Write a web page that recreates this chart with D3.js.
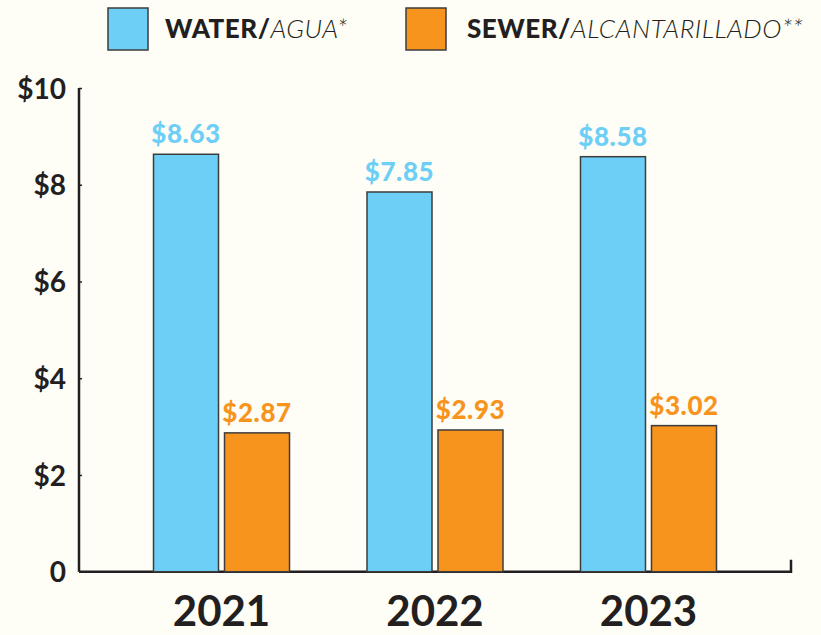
<!DOCTYPE html>
<html>
<head>
<meta charset="utf-8">
<script src="https://cdn.jsdelivr.net/npm/d3@7"></script>
<style>
  body { margin: 0; background: #fefdf6; }
  text { font-family: Lato, "DejaVu Sans", sans-serif; }
</style>
</head>
<body>
<div id="main"></div>
<script>
const Width = 821, Height = 635;

// data
const years = ["2021", "2022", "2023"];
const series = ["water", "sewer"];
const water = [8.63, 7.85, 8.58];
const sewer = [2.87, 2.93, 3.02];
const yTicks = [0, 2, 4, 6, 8, 10];
const legendBold = ["WATER/", "SEWER/"];
const legendItalic = ["AGUA*", "ALCANTARILLADO**"];

const colors = {water: "#6dcff6", sewer: "#f7941d"};
const margin = {left: 79, top: 88, right: 30, bottom: 63};

const svg = d3.select("#main")
    .append("svg")
    .attr("width", Width)
    .attr("height", Height)
    .style("background", "#fefdf6")
;

let X0 = d3.scaleBand().domain(years).range([margin.left, 791])
    .paddingInner(0.363).paddingOuter(0.349);
let X1 = d3.scaleBand().domain(series).range([0, X0.bandwidth()])
    .paddingInner(0.0845).paddingOuter(0);
let Y = d3.scaleLinear().domain([0, 10]).range([Height - margin.bottom - 0.3, margin.top]);

// axes
const yAxis = svg.append('g')
    .attr('transform', `translate(${margin.left},0)`)
    .call(d3.axisLeft(Y).tickValues(yTicks).tickSize(-3).tickPadding(13)
        .tickFormat(d => d === 0 ? "0" : "$" + d));
yAxis.select(".domain").attr("stroke", "#231f20").attr("stroke-width", 2.5)
    .attr("d", `M0,${Y(10)}V${Y(0)}`);
yAxis.selectAll(".tick line").attr("stroke", "#231f20").attr("stroke-width", 1.5);
yAxis.selectAll(".tick text").attr("fill", "#231f20")
    .style("font-size", "28px").style("font-weight", "700")
    .attr("dy", "0.36em");

const xAxis = svg.append('g')
    .attr('transform', `translate(0, ${Y(0)})`);
xAxis.append("path")
    .attr("d", `M${margin.left},0H791V-12`)
    .attr("fill", "none").attr("stroke", "#231f20").attr("stroke-width", 2.5);
// year labels sit right at the bottom edge, as in the original
xAxis.selectAll("text.year").data(years).enter().append("text")
    .attr("class", "year")
    .attr("x", d => X0(d) + X0.bandwidth() / 2)
    .attr("y", 54)
    .attr("text-anchor", "middle")
    .attr("fill", "#231f20")
    .style("font-size", "42px").style("font-weight", "700")
    .text(d => d);

// bars
const rows = years.map((y, i) => ({year: y, water: water[i], sewer: sewer[i]}));
const groups = svg.append("g").selectAll("g").data(rows).enter().append("g")
    .attr("transform", d => `translate(${X0(d.year)},0)`);

groups.selectAll("rect").data(d => series.map(k => ({key: k, value: d[k]})))
    .enter().append("rect")
    .attr("x", d => X1(d.key))
    .attr("y", d => Y(d.value))
    .attr("width", X1.bandwidth())
    .attr("height", d => Y(0) - Y(d.value))
    .attr("fill", d => colors[d.key])
    .attr("stroke", "#3d3d3d").attr("stroke-width", 1.5);

groups.selectAll("text").data(d => series.map(k => ({key: k, value: d[k]})))
    .enter().append("text")
    .attr("x", d => X1(d.key) + X1.bandwidth() / 2)
    .attr("y", d => Y(d.value) - 11)
    .attr("text-anchor", "middle")
    .attr("fill", d => colors[d.key])
    .style("font-size", "26px").style("font-weight", "900")
    .style("letter-spacing", "0.6px")
    .text(d => "$" + d.value.toFixed(2));

// legend
const legendX = [108, 406];
const legend = svg.append("g").selectAll("g").data(series).enter().append("g")
    .attr("transform", (d, i) => `translate(${legendX[i]},8)`);
legend.append("rect")
    .attr("width", 40).attr("height", 42)
    .attr("fill", d => colors[d])
    .attr("stroke", "#3d3d3d").attr("stroke-width", 1.5);
const lt = legend.append("text")
    .attr("x", (d, i) => i === 0 ? 57 : 61)
    .attr("y", 30)
    .attr("fill", "#231f20")
    .style("font-size", "26px")
    .style("letter-spacing", "0.5px");
lt.append("tspan").style("font-weight", "900").text((d, i) => legendBold[i]);
lt.append("tspan").style("font-style", "italic").style("font-weight", "300")
    .text((d, i) => legendItalic[i]);
</script>
</body>
</html>
